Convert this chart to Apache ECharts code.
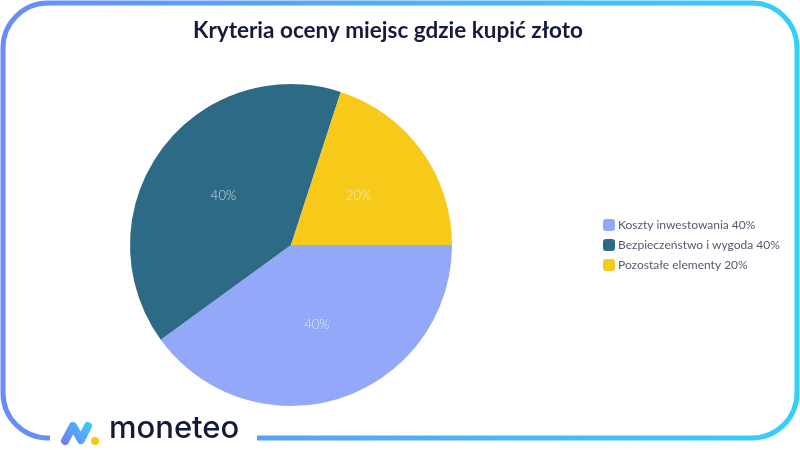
<!DOCTYPE html>
<html>
<head>
<meta charset="utf-8">
<style>html,body{margin:0;padding:0;background:#fff;}#c{width:800px;height:450px;}</style>
<script src="https://cdn.jsdelivr.net/npm/echarts@6/dist/echarts.min.js"></script>
</head>
<body>
<div id="c"></div>
<script>
const categories = ['Koszty inwestowania', 'Bezpieczeństwo i wygoda', 'Pozostałe elementy'];
const values = [40, 40, 20];
const colors = ['#94a8f9', '#2d6a86', '#f7c919'];
const titleText = 'Kryteria oceny miejsc gdzie kupić złoto';

const chart = echarts.init(document.getElementById('c'), null, {renderer: 'canvas'});
const data = categories.map((n, i) => ({name: n, value: values[i], itemStyle: {color: colors[i]}}));
const total = values.reduce((a, b) => a + b, 0);

function grad() {
  return new echarts.graphic.LinearGradient(0, 0, 800, 0, [
    {offset: 0, color: '#6a8cf8'}, {offset: 1, color: '#35cefc'}
  ], true);
}
const bw = 5;
const R = 45;
const L = 3, T = 3, Rt = 797, B = 438;
const borderEls = [
  {type: 'line', shape: {x1: 257, y1: B, x2: Rt - R, y2: B}},
  {type: 'line', shape: {x1: Rt, y1: B - R, x2: Rt, y2: T + R}},
  {type: 'line', shape: {x1: Rt - R, y1: T, x2: L + R, y2: T}},
  {type: 'line', shape: {x1: L, y1: T + R, x2: L, y2: B - R}},
  {type: 'arc', shape: {cx: L + R, cy: T + R, r: R, startAngle: Math.PI, endAngle: 1.5 * Math.PI, clockwise: true}},
  {type: 'arc', shape: {cx: Rt - R, cy: T + R, r: R, startAngle: 1.5 * Math.PI, endAngle: 2 * Math.PI, clockwise: true}},
  {type: 'arc', shape: {cx: Rt - R, cy: B - R, r: R, startAngle: 0, endAngle: 0.5 * Math.PI, clockwise: true}},
  {type: 'arc', shape: {cx: L + R, cy: B - R, r: R, startAngle: 0.5 * Math.PI, endAngle: Math.PI, clockwise: true}},
  {type: 'line', shape: {x1: L + R, y1: B, x2: 50, y2: B}}
].map(e => Object.assign(e, {style: {stroke: grad(), lineWidth: bw, fill: null}, silent: true}));

chart.setOption({
  backgroundColor: '#ffffff',
  animation: false,
  title: {
    text: titleText, left: 188, top: 14,
    textStyle: {fontFamily: 'Lato', fontWeight: 'bold', fontSize: 22.5, color: '#161b3d'}
  },
  legend: {
    orient: 'vertical', left: 598, top: 214,
    itemWidth: 12, itemHeight: 12, itemGap: 8,
    icon: 'roundRect',
    textStyle: {fontFamily: 'Lato', fontSize: 12, color: '#555a6e', padding: [0, 0, 0, -2]},
    formatter: name => {
      const i = categories.indexOf(name);
      return name + ' ' + Math.round(values[i] / total * 100) + '%';
    }
  },
  series: [{
    type: 'pie',
    center: [291, 245],
    radius: [0, 161],
    startAngle: 0,
    clockwise: true,
    data: data,
    label: {
      position: 'inner', formatter: '{d}%',
      fontFamily: 'Lato', fontWeight: 300, fontSize: 13, color: 'rgba(255,255,255,0.75)'
    },
    labelLine: {show: false},
    emphasis: {disabled: true}
  }],
  graphic: borderEls.concat([
    {
      type: 'polyline',
      shape: {points: [[65, 441], [73, 426], [81, 440], [88, 426]]},
      style: {
        fill: null, lineWidth: 8, lineJoin: 'round', lineCap: 'round',
        stroke: new echarts.graphic.LinearGradient(0, 1, 1, 0, [{offset: 0, color: '#7a72f2'}, {offset: 1, color: '#37d2fb'}])
      },
      silent: true
    },
    {
      type: 'circle', shape: {cx: 95, cy: 441, r: 4}, style: {fill: '#fcc514'}, silent: true
    },
    {
      type: 'text', left: 109, top: 413,
      style: {text: 'moneteo', font: '500 31px Inter', fill: '#141a3b'},
      silent: true
    }
  ])
});
</script>
</body>
</html>
